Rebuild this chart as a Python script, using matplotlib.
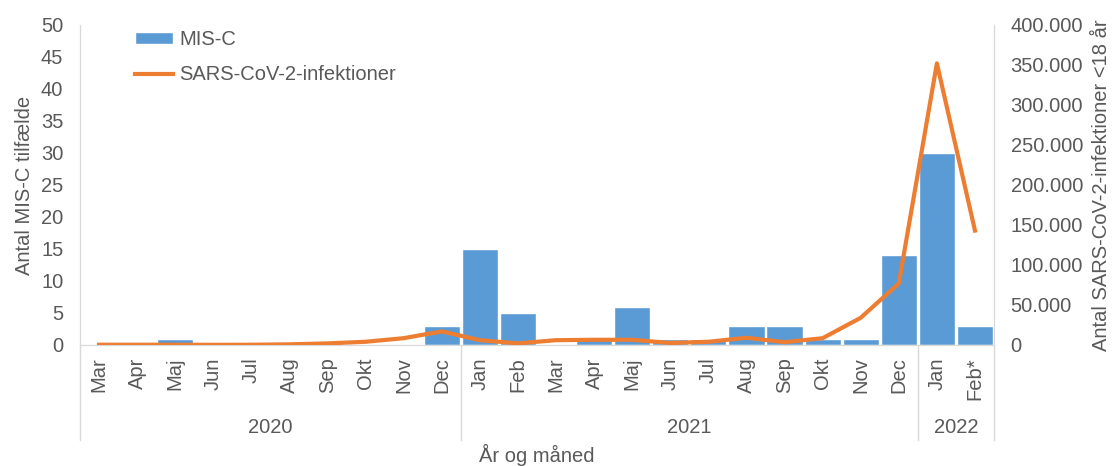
import matplotlib.pyplot as plt
from matplotlib.ticker import FuncFormatter
import numpy as np

plt.rcParams['font.family'] = ['Liberation Sans', 'DejaVu Sans']
plt.rcParams['font.size'] = 14.5

# Data
months = ['Mar', 'Apr', 'Maj', 'Jun', 'Jul', 'Aug', 'Sep', 'Okt', 'Nov', 'Dec',
          'Jan', 'Feb', 'Mar', 'Apr', 'Maj', 'Jun', 'Jul', 'Aug', 'Sep', 'Okt', 'Nov', 'Dec',
          'Jan', 'Feb*']
years = ['2020', '2021', '2022']
months_per_year = [10, 12, 2]
misc_cases = [0, 0, 1, 0, 0, 0, 0, 0, 0, 3,
              15, 5, 0, 1, 6, 1, 1, 3, 3, 1, 1, 14,
              30, 3]
sars_infections = [300, 300, 300, 200, 300, 800, 2000, 4000, 8500, 17000,
                   6000, 2000, 6000, 6500, 6500, 2500, 4000, 9000, 3500, 8500, 34000, 77000,
                   352000, 143000]

text_color = '#595959'
spine_color = '#D9D9D9'
bar_color = '#5B9BD5'
line_color = '#ED7D31'

fig = plt.figure(figsize=(11.14, 4.66), dpi=100)
ax = fig.add_axes([0.0718, 0.2597, 0.8205, 0.6867])
ax2 = ax.twinx()

x = np.arange(len(months))
bars = ax.bar(x, misc_cases, width=0.95, color=bar_color, edgecolor='white',
              linewidth=1, label='MIS-C', zorder=2)
line, = ax2.plot(x, sars_infections, color=line_color, linewidth=3,
                 label='SARS-CoV-2-infektioner', zorder=3)

ax.set_xlim(-0.5, len(months) - 0.5)
ax.set_ylim(0, 50)
ax.set_yticks(range(0, 51, 5))
ax2.set_ylim(0, 400000)
ax2.set_yticks(range(0, 400001, 50000))
ax2.yaxis.set_major_formatter(FuncFormatter(lambda v, p: f'{int(v):,}'.replace(',', '.')))

ax.set_xticks(x)
ax.set_xticklabels(months, rotation=90, va='top')

for a in (ax, ax2):
    a.tick_params(axis='both', length=0, colors=text_color)
    for s in a.spines.values():
        s.set_color(spine_color)
    a.spines['top'].set_visible(False)
ax.tick_params(axis='x', pad=9)
ax.tick_params(axis='y', pad=12)
ax2.tick_params(axis='y', pad=12)

ax.set_ylabel('Antal MIS-C tilfælde', color=text_color, labelpad=5)
ax2.set_ylabel('Antal SARS-CoV-2-infektioner <18 år', color=text_color, labelpad=6)

# Year groups under the month labels
trans = ax.get_xaxis_transform()
bounds = np.concatenate([[0], np.cumsum(months_per_year)]) - 0.5
for b in bounds:
    ax.plot([b, b], [0, -0.297], transform=trans, color=spine_color,
            linewidth=1, clip_on=False)
for i, yr in enumerate(years):
    ax.text((bounds[i] + bounds[i + 1]) / 2, -0.258, yr, transform=trans,
            ha='center', va='center', color=text_color)

ax.text(0.5, -0.345, 'År og måned', transform=ax.transAxes, ha='center',
        va='center', color=text_color)

leg = ax.legend([bars, line], ['MIS-C', 'SARS-CoV-2-infektioner'],
                loc='upper left', bbox_to_anchor=(0.040, 1.04), frameon=False,
                handlelength=1.9, handleheight=0.5, handletextpad=0.3,
                labelspacing=0.8)
for t in leg.get_texts():
    t.set_color(text_color)

fig.savefig('out.png', dpi=100)
